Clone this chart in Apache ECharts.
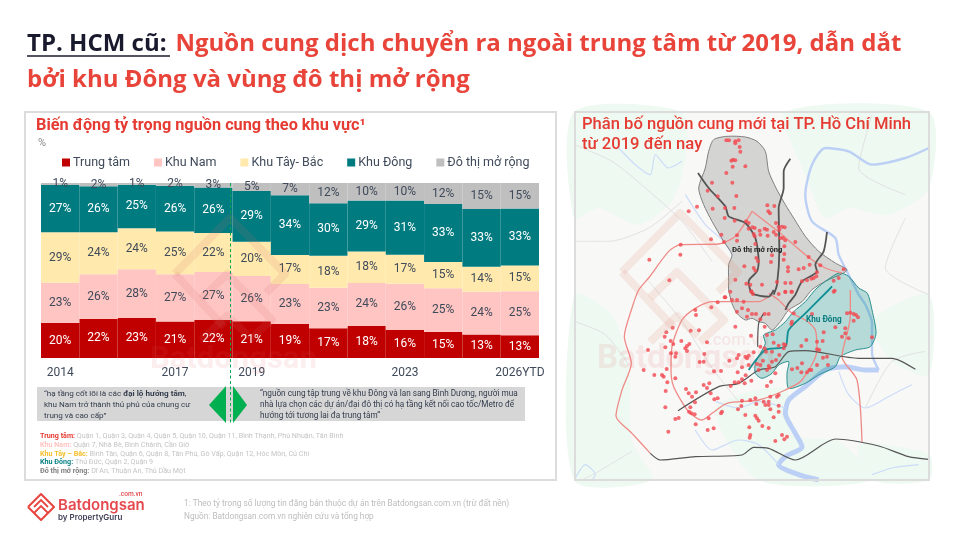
<!DOCTYPE html>
<html><head><meta charset="utf-8">
<style>html,body{margin:0;padding:0;background:#fff}#c{width:956px;height:540px}</style>
<script src="https://cdn.jsdelivr.net/npm/echarts@6/dist/echarts.min.js"></script></head>
<body><div id="c"></div>
<script>
const years=['2014','2015','2016','2017','2018','2019','2020','2021','2022','2023','2024','2025','2026YTD'];
const shownYears=['2014','2017','2019','2023','2026YTD'];
const trungTam=[20,22.3,22.8,20.8,21.8,21,19.4,17,18.4,16.2,14.8,13.4,13];
const khuNam=[23,25.6,27.9,27,27.3,25.9,22.9,23.2,24.4,26.2,25.1,24.4,25.2];
const khuTayBac=[28.8,23.9,23.5,24.5,22.3,19.6,16.6,18.3,18,16.6,15,14.4,14.6];
const khuDong=[27.1,26.3,24.8,26.2,26,28.9,34.1,30,29.2,31,33.1,32.9,32.6];
const doThiMoRong=[1.1,1.9,1,1.5,2.6,4.6,7,11.5,10,10,12,14.9,14.6];

// map data (x, y in two overlapping map sheets)
const northDots=[[463,97],[471,97],[490,100],[500,97],[490,106],[503,117],[505,131],[478,158],[483,155],[490,157],[482,176],[520,175],[463,195],[420,224],[481,224],[407,248],[437,265],[493,264],[375,296],[350,310],[422,302],[459,300],[487,300],[586,292],[607,294],[589,310],[594,316],[458,330],[488,338],[522,340],[530,345],[541,358],[548,360],[530,362],[545,378],[563,368],[565,380],[578,362],[585,365],[612,345],[620,356],[630,356],[638,358],[622,365],[605,372],[612,380],[587,383],[625,390],[633,390],[640,397],[448,380],[417,394],[456,402],[495,382],[548,385],[550,408],[495,398],[670,402],[637,415],[326,410],[325,440],[232,455],[292,517],[553,450],[558,460],[550,488],[545,480],[600,442],[597,462],[637,438],[635,455],[648,478],[648,490],[680,484],[695,480],[710,447],[713,470],[745,472],[815,484],[735,493],[733,505],[725,510],[718,512],[705,517],[690,520],[517,475],[490,515],[523,527],[535,530],[570,530],[615,522],[640,525],[656,525],[658,551],[640,552],[620,558],[800,510],[785,518],[788,548],[538,550],[543,558],[460,568]];
const southDots=[[458,22],[437,37],[475,5],[480,30],[495,30],[515,35],[538,5],[660,5],[640,5],[418,52],[370,60],[372,75],[495,65],[510,55],[528,60],[525,80],[540,72],[552,72],[578,72],[590,72],[665,70],[720,72],[660,95],[658,102],[565,88],[490,110],[578,110],[302,113],[283,127],[278,140],[356,122],[381,121],[537,137],[585,135],[602,133],[296,153],[304,162],[328,153],[405,157],[352,162],[345,168],[340,175],[345,183],[228,180],[280,172],[297,190],[312,190],[310,200],[397,192],[395,215],[383,216],[215,240],[247,255],[270,255],[275,260],[284,237],[286,277],[310,265],[281,303],[280,352],[342,297],[350,310],[360,320],[372,307],[395,285],[405,294],[412,280],[416,310],[427,328],[437,325],[369,337],[355,352],[351,365],[358,370],[368,373],[410,385],[320,384],[310,387],[371,403],[407,420],[425,415],[289,425],[426,244],[447,243],[472,212],[495,205],[500,195],[520,200],[525,205],[530,197],[530,225],[510,232],[497,247],[521,256],[510,268],[488,277],[476,288],[500,277],[518,280],[538,272],[545,187],[565,170],[605,158],[620,167],[635,163],[640,165],[578,175],[582,185],[600,185],[622,195],[635,175],[612,210],[600,215],[573,212],[565,225],[555,222],[560,240],[590,228],[585,240],[592,233],[660,238],[676,234],[690,220],[688,247],[705,247],[712,240],[718,240],[735,225],[753,203],[765,200],[768,225],[755,127],[735,155],[752,153],[735,178],[742,180],[703,150],[688,168],[810,140],[830,145],[820,115],[820,130],[900,142],[790,112],[845,92],[835,68],[845,72],[852,75],[858,82],[825,70],[785,5],[610,250],[597,275],[585,288],[620,315],[615,320],[595,320],[590,335],[575,335],[580,345],[590,345],[595,358],[620,347],[620,365],[605,382],[550,325],[535,330],[510,332],[508,348],[498,358],[553,342],[520,375],[550,377],[555,385],[560,392],[532,412],[571,408],[590,414],[535,435],[533,443],[610,453],[630,435],[645,440],[637,448],[450,365],[447,370]];
const greyArea=[[425,95],[465,85],[520,87],[555,100],[580,130],[590,190],[612,240],[640,290],[665,330],[700,385],[740,430],[790,465],[825,485],[815,495],[760,520],[720,545],[690,581],[650,606],[625,641],[600,666],[580,646],[560,641],[540,631],[520,636],[495,616],[480,586],[470,546],[470,520],[470,470],[480,440],[455,400],[420,340],[395,290],[380,240],[400,180],[410,130]];
const tealArea=[[735,540],[800,495],[830,505],[860,540],[886,556],[900,606],[912,676],[895,716],[850,726],[805,746],[790,776],[740,801],[700,826],[650,841],[645,796],[650,761],[620,771],[600,796],[570,811],[550,796],[550,766],[565,736],[580,706],[575,681],[610,666],[640,641],[665,611],[700,581]];
const greenPatches=[
 [[6,12],[330,12],[340,150],[300,280],[200,350],[80,300],[6,330]],
 [[6,560],[120,620],[170,780],[180,1000],[240,1116],[6,1116]],
 [[640,12],[1071,12],[1071,240],[950,320],[830,300],[760,330],[700,200]],
 [[900,640],[1071,560],[1071,800],[960,760]],
 [[430,900],[640,840],[660,980],[800,1000],[900,1116],[560,1116]],
 [[860,1010],[1071,1040],[1071,1116],[900,1116]]
];
const riverNorth=[[1071,120],[1000,150],[900,170],[830,130],[760,120],[720,170],[700,260],[720,340],[790,390],[800,440],[830,500],[860,560],[880,590],[900,646],[900,736],[920,786]];
const riverSouth=[[920,786],[880,786],[820,776],[760,786],[700,836],[650,876],[640,916],[670,976],[690,1016],[640,1046],[620,1070],[680,1100],[740,1116]];
const sideRivers=[
 [[330,160],[290,180],[250,140],[235,200],[190,170],[140,120]],
 [[800,790],[830,860],[880,900],[960,860],[1020,830]],
 [[370,966],[420,1026],[500,996],[560,1010],[620,1070]],
 [[430,880],[500,900],[560,880],[640,900]],
 [[10,1110],[40,1070],[70,1100],[60,1116]],
 [[900,1100],[960,1080],[1040,1070]],
 [[480,440],[455,400],[400,350],[340,260]]
];
const minorRoads=[
 [[6,110],[120,160],[220,240],[330,340],[420,460]],
 [[6,400],[110,400],[230,360],[330,280]],
 [[230,520],[330,640],[420,780],[500,880]],
 [[6,640],[100,680],[170,770]],
 [[880,900],[960,760],[1060,730]],
 [[1000,330],[940,480],[1071,560]],
 [[180,1030],[80,1090],[30,1116]],
 [[900,20],[860,180],[1000,260]]
];
const ringOuter=[[540,310],[490,385],[440,408],[325,410],[290,430],[230,510],[200,546],[178,606],[157,686],[178,766],[150,846],[132,924],[180,976],[235,1036]];
const ringInner=[[810,495],[760,480],[700,440],[630,380],[540,310]];
const ringThree=[[590,566],[560,581],[420,581],[370,601],[330,636],[300,716],[297,786],[305,836],[350,911],[390,936],[420,916],[465,886],[560,876],[640,846],[690,816],[735,726],[730,666],[700,636],[660,616],[620,576],[590,556]];
const eastRoad=[[835,546],[835,626],[810,746],[855,816],[870,1001]];
const darkRoads=[
 [[378,195],[410,240],[460,295],[470,325],[520,345],[550,390],[560,460],[555,490],[530,520],[540,556],[590,566],[605,546]],
 [[655,152],[635,190],[635,240],[620,300],[622,430],[615,530],[605,560]],
 [[765,372],[755,430],[730,470],[735,490],[690,520],[670,560],[650,586],[640,606]],
 [[575,616],[560,646],[557,716]],
 [[318,908],[440,836],[500,826],[560,786],[610,776],[650,731],[700,728],[860,751],[960,751],[1030,784]],
 [[235,1036],[265,1056],[370,1046],[510,1041],[545,1018],[590,1021],[670,1056],[790,993],[920,1014],[1010,1046],[1070,1054]]
];
const tealRoad=[[530,786],[580,726],[640,716],[650,666],[700,616],[770,546],[780,535]];

const FONT='Roboto';
const DARK='#3f4a5a';
function bar(name,data,color,lab){return {name,type:'bar',stack:'s',data,xAxisIndex:0,yAxisIndex:0,barWidth:'100%',z:3,
  itemStyle:{color},label:{show:true,position:'inside',fontFamily:FONT,fontSize:12,color:lab,formatter:p=>Math.round(p.value)+'%'}};}
function mapLine(data,color,width,z){return {type:'line',xAxisIndex:1,yAxisIndex:1,data,silent:true,symbol:'none',smooth:0.25,z,lineStyle:{color,width},legendHoverLink:false};}
function mapPoly(data,fill,stroke,z){return {type:'custom',xAxisIndex:1,yAxisIndex:1,data:[0],silent:true,z,
  renderItem:(p,api)=>({type:'polygon',shape:{points:data.map(d=>api.coord(d)),smooth:0.25},style:{fill,stroke,lineWidth:stroke?1:0}})};}
function logo(ox,oy,s,stroke,lw,z){const P=a=>a.map(p=>[ox+p[0]*s,oy+p[1]*s]);const L=a=>({type:'polyline',z,silent:true,shape:{points:P(a)},style:{stroke,fill:'none',lineWidth:lw,lineJoin:'round'}});
  return [L([[-58,2],[0,-57],[58,2],[38,22]]),
          L([[-58,2],[-6,58]]),
          L([[-30,28],[-3,2],[44,50],[20,72]]),
          L([[-30,72],[-3,46],[18,66]])];}
function T(x,y,text,size,color){return {type:'text',x,y,z:120,silent:true,style:{text,font:'400 '+size+'px '+FONT,fill:color}};}
function R(x,y,w,h,fill,stroke,z){return {type:'rect',z:z||1,silent:true,shape:{x,y,width:w,height:h},style:{fill:fill||'none',stroke:stroke||'none',lineWidth:stroke?2:0}};}

const fine='#c4c4c4';
const option={
 animation:false,backgroundColor:'#fff',textStyle:{fontFamily:FONT},
 title:[
  {left:27,top:26,padding:0,textStyle:{rich:{a:{fontFamily:'Open Sans',fontSize:24,fontWeight:700,color:'#1a1a2e',lineHeight:36},b:{fontFamily:'Open Sans',fontSize:24,fontWeight:700,color:'#e8443a',lineHeight:36}}},
   text:'{a|TP. HCM cũ:}  {b|Nguồn cung dịch chuyển ra ngoài trung tâm từ 2019, dẫn dắt}\n{b|bởi khu Đông và vùng đô thị mở rộng}'},
  {left:36,top:118,padding:0,text:'Biến động tỷ trọng nguồn cung theo khu vực¹',textStyle:{fontFamily:FONT,fontSize:16.3,fontWeight:700,color:'#e53b32'}},
  {left:582,top:115,padding:0,text:'Phân bố nguồn cung mới tại TP. Hồ Chí Minh\ntừ 2019 đến nay',textStyle:{fontFamily:FONT,fontSize:16.6,fontWeight:500,color:'#e53b32',lineHeight:20}}
 ],
 legend:{left:62,top:156,itemWidth:8,itemHeight:8,itemGap:24,padding:0,icon:'rect',
  textStyle:{fontFamily:FONT,fontSize:12.5,color:DARK,padding:[0,0,0,-2]},
  data:['Trung tâm','Khu Nam','Khu Tây- Bắc','Khu Đông','Đô thị mở rộng']},
 grid:[{left:41,top:183,width:498,height:175},{left:574,top:112,width:355,height:368}],
 xAxis:[
  {gridIndex:0,type:'category',data:years,axisLine:{show:false},axisTick:{show:false},
   axisLabel:{interval:0,margin:9,fontFamily:FONT,fontSize:12,color:DARK,formatter:v=>shownYears.includes(v)?v:''}},
  {gridIndex:1,type:'value',min:6,max:1071,show:false}
 ],
 yAxis:[
  {gridIndex:0,type:'value',min:0,max:100,show:false},
  {gridIndex:1,type:'value',min:12,max:1116,inverse:true,show:false}
 ],
 series:[
  bar('Trung tâm',trungTam,'#c00000','#fff'),
  bar('Khu Nam',khuNam,'#ffc5c2',DARK),
  bar('Khu Tây- Bắc',khuTayBac,'#ffe9ac',DARK),
  bar('Khu Đông',khuDong,'#007b80','#fff'),
  bar('Đô thị mở rộng',doThiMoRong,'#bfbfbf',DARK),
  ...greenPatches.map(g=>mapPoly(g,'#edf9f1',null,3)),
  ...minorRoads.map(r=>mapLine(r,'#e2e2e2',1,3)),
  mapLine(riverNorth,'#bcd0f6',2.4,4),
  mapLine(riverSouth,'#bcd0f6',5,4),
  ...sideRivers.map(r=>mapLine(r,'#cddcf9',1.2,4)),
  mapPoly(greyArea,'rgba(130,130,130,0.30)','#808080',5),
  mapPoly(tealArea,'rgba(0,135,130,0.27)','#2c8f90',5),
  mapLine(ringOuter,'#ef8a86',1.3,6),
  mapLine(ringInner,'#ef8a86',1.3,6),
  mapLine(ringThree,'#ef8a86',1.3,6),
  mapLine(eastRoad,'#ef8a86',1.3,6),
  ...darkRoads.map((r,i)=>mapLine(r,'#555',i<3?1.8:1.2,7)),
  mapLine(tealRoad,'#0e8f95',1.8,7),
  {type:'scatter',xAxisIndex:1,yAxisIndex:1,silent:true,z:8,symbolSize:4,itemStyle:{color:'#f2474f'},
   data:northDots.concat(southDots.map(d=>[d[0],d[1]+546]))}
 ],
 graphic:{elements:[
  R(575,112,354,368,'#f8f8f7',null,1),
  R(25,112,531,368,null,'#dcdcdc',60),
  R(575,112,354,368,null,'#dcdcdc',60),
  {type:'line',z:120,silent:true,shape:{x1:27,y1:56,x2:170,y2:56},style:{stroke:'#1a1a2e',lineWidth:1.6}},
  T(38,138,'%',11,'#888'),
  R(37,387,488,34,'#d6d6d6',null,20),
  {type:'polygon',z:21,silent:true,shape:{points:[[209,405],[226,386],[226,423]]},style:{fill:'#00b050'}},
  {type:'polygon',z:21,silent:true,shape:{points:[[233,386],[233,423],[247,405]]},style:{fill:'#00b050'}},
  {type:'line',z:22,silent:true,shape:{x1:230.5,y1:183,x2:230.5,y2:424},style:{stroke:'#00a650',lineWidth:1,lineDash:[3,2.5]}},
  {type:'text',z:23,silent:true,x:44,y:388,style:{text:'{n|“hạ tầng cốt lõi là các }{b|đại lộ hướng tâm}{n|,}\n{n|khu Nam trở thành thủ phủ của chung cư}\n{n|trung và cao cấp”}',
    rich:{n:{font:'400 8.1px Roboto',fill:'#333c4c',lineHeight:11},b:{font:'700 8.1px Roboto',fill:'#333c4c',lineHeight:11}}}},
  {type:'text',z:23,silent:true,x:260,y:388,style:{text:'“nguồn cung tập trung về khu Đông và lan sang Bình Dương, người mua\nnhà lựa chọn các dự án/đại đô thị có hạ tầng kết nối cao tốc/Metro để\nhướng tới tương lai đa trung tâm”',font:'400 8.2px Roboto',fill:'#333c4c',lineHeight:11}},
  ...[['Trung tâm:','#e53b32',' Quận 1, Quận 3, Quận 4, Quận 5, Quận 10, Quận 11, Bình Thạnh, Phú Nhuận, Tân Bình'],
      ['Khu Nam:','#ffc5c2',' Quận 7, Nhà Bè, Bình Chánh, Cần Giờ'],
      ['Khu Tây – Bắc:','#f5bf2a',' Bình Tân, Quận 6, Quận 8, Tân Phú, Gò Vấp, Quận 12, Hóc Môn, Củ Chi'],
      ['Khu Đông:','#0c8287',' Thủ Đức, Quận 2, Quận 9'],
      ['Đô thị mở rộng:','#7f7f7f',' Dĩ An, Thuận An, Thủ Dầu Một']].map((r,i)=>({type:'text',z:23,silent:true,x:40,y:433+i*8.7,
       style:{text:'{h|'+r[0]+'}{t|'+r[2]+'}',rich:{h:{font:'700 7.15px Roboto',fill:r[1]},t:{font:'400 7.15px Roboto',fill:fine}}}})),
  {type:'text',z:23,silent:true,x:184,y:500,style:{text:'1: Theo tỷ trọng số lượng tin đăng bán thuộc dự án trên Batdongsan.com.vn (trừ đất nền)',font:'400 8.28px Roboto',fill:'#bdbdbd'}},
  {type:'text',z:23,silent:true,x:184,y:513,style:{text:'Nguồn: Batdongsan.com.vn nghiên cứu và tổng hợp',font:'400 8.28px Roboto',fill:'#bdbdbd'}},
  {type:'polyline',z:30,silent:true,shape:{points:[[28,507],[41,494],[54,507],[41,520],[28,507]]},style:{stroke:'#e8453f',fill:'none',lineWidth:2,lineJoin:'round'}},
  {type:'polyline',z:30,silent:true,shape:{points:[[34,507],[41,500],[48,507]]},style:{stroke:'#e8453f',fill:'none',lineWidth:1.8}},
  {type:'polyline',z:30,silent:true,shape:{points:[[34,513],[41,506],[48,513]]},style:{stroke:'#e8453f',fill:'none',lineWidth:1.8}},
  {type:'text',z:30,silent:true,x:58,y:498,style:{text:'Batdongsan',font:'600 15px Inter',fill:'#e5484d'}},
  {type:'text',z:30,silent:true,x:119,y:491,style:{text:'.com.vn',font:'500 6.6px Roboto',fill:'#e5484d'}},
  {type:'text',z:30,silent:true,x:58,y:514,style:{text:'by PropertyGuru',font:'600 8px Inter',fill:'#3d3d55'}},
  ...logo(230,272,0.95,'rgba(205,110,110,0.13)',8,100),
  {type:'text',z:100,silent:true,x:150,y:345,style:{text:'Batdongsan',font:'700 31px Roboto',fill:'rgba(226,90,90,0.10)'}},
  ...logo(680,270,1.0,'rgba(225,140,120,0.17)',8,100),
  {type:'text',z:100,silent:true,x:597,y:343,style:{text:'Batdongsan',font:'700 33px Roboto',fill:'rgba(226,90,90,0.11)'}},
  {type:'text',z:100,silent:true,x:708,y:332,style:{text:'.com.vn',font:'500 17px Roboto',fill:'rgba(226,90,90,0.11)'}},
  {type:'text',z:110,silent:true,x:732,y:246,style:{text:'Đô thị mở rộng',font:'700 7.6px Roboto',fill:'#222'}},
  {type:'text',z:110,silent:true,x:806,y:316,style:{text:'Khu Đông',font:'700 8.2px Roboto',fill:'#0a7c80'}}
 ]}
};
echarts.init(document.getElementById('c')).setOption(option);
</script></body></html>
